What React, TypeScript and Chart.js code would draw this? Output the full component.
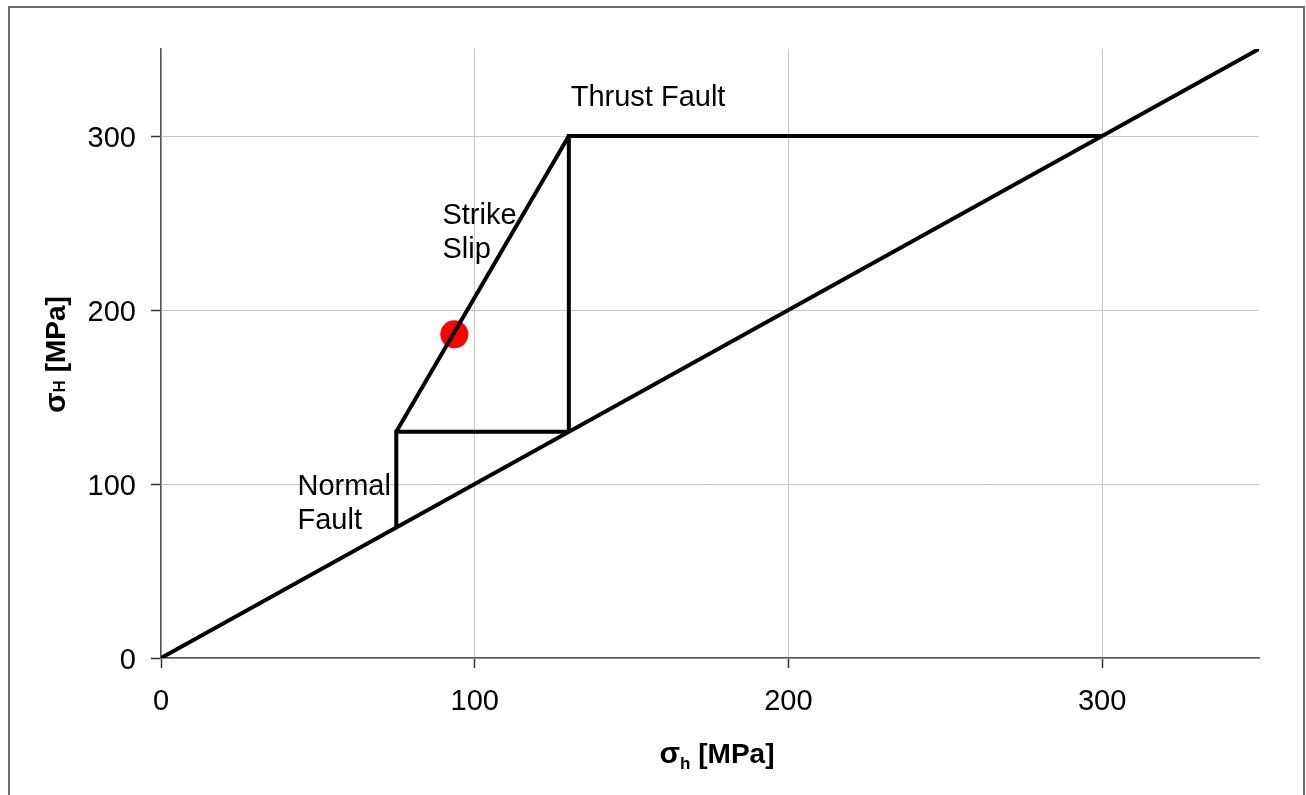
import React, { useEffect, useRef } from "react";
import { Chart, registerables } from "chart.js";

Chart.register(...registerables);

// ---- data ----
const diagonalX = [0, 350];
const diagonalY = [0, 350];

const normalFaultX = [75, 75, 130];
const normalFaultY = [75, 130, 130];

const strikeSlipX = [75, 130];
const strikeSlipY = [130, 300];

const thrustFaultX = [130, 130, 300];
const thrustFaultY = [130, 300, 300];

const stressPointX = [93.5];
const stressPointY = [186];

const tickValues = [0, 100, 200, 300];
const axisMax = 350;

const annotationTexts = ["Thrust Fault", "Strike", "Slip", "Normal", "Fault"];
const annotationX = [130.6, 89.7, 89.7, 43.5, 43.5];
const annotationY = [317.2, 249.4, 229.9, 93.7, 74.1];

const FONT = "'Liberation Sans', Arial, sans-serif";

const toPoints = (xs: number[], ys: number[]) => xs.map((x, i) => ({ x, y: ys[i] }));

const textPlugin = {
  id: "textPlugin",
  afterDraw(chart: any) {
    const ctx = chart.ctx;
    const xs = chart.scales.x;
    const ys = chart.scales.y;
    const area = chart.chartArea;
    ctx.save();
    // annotations
    ctx.fillStyle = "#000";
    ctx.font = `29px ${FONT}`;
    ctx.textAlign = "left";
    ctx.textBaseline = "alphabetic";
    annotationTexts.forEach((t, i) => {
      ctx.fillText(t, xs.getPixelForValue(annotationX[i]), ys.getPixelForValue(annotationY[i]));
    });

    // x axis title: σh [MPa]
    const big = `bold 28px ${FONT}`;
    const sigmaFont = `bold 30px ${FONT}`;
    const small = `bold 17px ${FONT}`;
    ctx.font = sigmaFont;
    const wSigma = ctx.measureText("σ").width;
    ctx.font = big;
    const wRest = ctx.measureText(" [MPa]").width;
    ctx.font = small;
    const wH = ctx.measureText("h").width;
    const total = wSigma + wH + wRest;
    const cx = 717;
    const by = area.bottom + 105;
    let x = cx - total / 2;
    ctx.font = sigmaFont;
    ctx.fillText("σ", x, by);
    x += wSigma;
    ctx.font = small;
    ctx.fillText("h", x, by + 6);
    x += wH;
    ctx.font = big;
    ctx.fillText(" [MPa]", x, by);

    // y axis title: σH [MPa]
    ctx.save();
    ctx.translate(65, (area.top + area.bottom) / 2 + 1);
    ctx.rotate(-Math.PI / 2);
    ctx.font = sigmaFont;
    const ySigma = ctx.measureText("σ").width;
    ctx.font = big;
    const yRest = ctx.measureText(" [MPa]").width;
    ctx.font = small;
    const yH = ctx.measureText("H").width;
    const ytotal = ySigma + yH + yRest;
    let yx = -ytotal / 2;
    ctx.font = sigmaFont;
    ctx.fillText("σ", yx, 0);
    yx += ySigma;
    ctx.font = small;
    ctx.fillText("H", yx, 0);
    yx += yH;
    ctx.font = big;
    ctx.fillText(" [MPa]", yx, 0);
    ctx.restore();

    ctx.restore();
  },
};

const lineDs = (label: string, xs: number[], ys: number[]) => ({
  label,
  data: toPoints(xs, ys),
  showLine: true,
  borderColor: "#000",
  backgroundColor: "#000",
  borderWidth: 4,
  pointRadius: 0,
  borderJoinStyle: "miter" as const,
  borderCapStyle: "butt" as const,
  tension: 0,
});

export default function App() {
  const canvasRef = useRef<HTMLCanvasElement>(null);

  useEffect(() => {
    if (!canvasRef.current) return;
    const chart = new Chart(canvasRef.current, {
      type: "scatter",
      data: {
        datasets: [
          lineDs("diagonal", diagonalX, diagonalY),
          lineDs("normal", normalFaultX, normalFaultY),
          lineDs("strike", strikeSlipX, strikeSlipY),
          lineDs("thrust", thrustFaultX, thrustFaultY),
          {
            label: "point",
            data: toPoints(stressPointX, stressPointY),
            pointRadius: 14,
            pointBackgroundColor: "#ff0000",
            pointBorderWidth: 0,
            borderWidth: 0,
            showLine: false,
          } as any,
        ],
      },
      options: {
        responsive: false,
        animation: false,
        events: [],
        layout: { padding: { left: 0, right: 47, top: 49, bottom: 0 } },
        plugins: {
          legend: { display: false },
          tooltip: { enabled: false },
        },
        scales: {
          x: {
            type: "linear",
            min: 0,
            max: axisMax,
            afterBuildTicks: (s: any) => {
              s.ticks = tickValues.map((v) => ({ value: v }));
            },
            afterFit: (s: any) => {
              s.height = 137;
            },
            grid: {
              color: "#c8c8c8",
              lineWidth: 1,
              drawTicks: true,
              tickLength: 10,
              tickColor: "#333",
              tickWidth: 1.5,
            },
            border: { display: true, color: "#555", width: 1.5 },
            ticks: {
              padding: 17,
              color: "#000",
              font: { family: FONT, size: 29 },
              maxRotation: 0,
            },
          },
          y: {
            type: "linear",
            min: 0,
            max: axisMax,
            afterBuildTicks: (s: any) => {
              s.ticks = tickValues.map((v) => ({ value: v }));
            },
            afterFit: (s: any) => {
              s.width = 161;
            },
            grid: {
              color: "#c8c8c8",
              lineWidth: 1,
              drawTicks: true,
              tickLength: 10,
              tickColor: "#333",
              tickWidth: 1.5,
            },
            border: { display: true, color: "#555", width: 1.5 },
            ticks: {
              padding: 15,
              color: "#000",
              font: { family: FONT, size: 29 },
              labelOffset: 3,
            },
          },
        },
      },
      plugins: [textPlugin],
    });
    return () => chart.destroy();
  }, []);

  return (
    <div style={{ position: "fixed", left: 0, top: 0, width: 1306, height: 795, overflow: "hidden", background: "#fff" }}>
      <canvas ref={canvasRef} width={1306} height={795} style={{ position: "absolute", left: 0, top: 0 }} />
      <div
        style={{
          position: "absolute",
          left: 8,
          top: 6,
          width: 1297,
          height: 820,
          border: "2px solid #6d6d6d",
          boxSizing: "border-box",
          pointerEvents: "none",
        }}
      />
    </div>
  );
}
